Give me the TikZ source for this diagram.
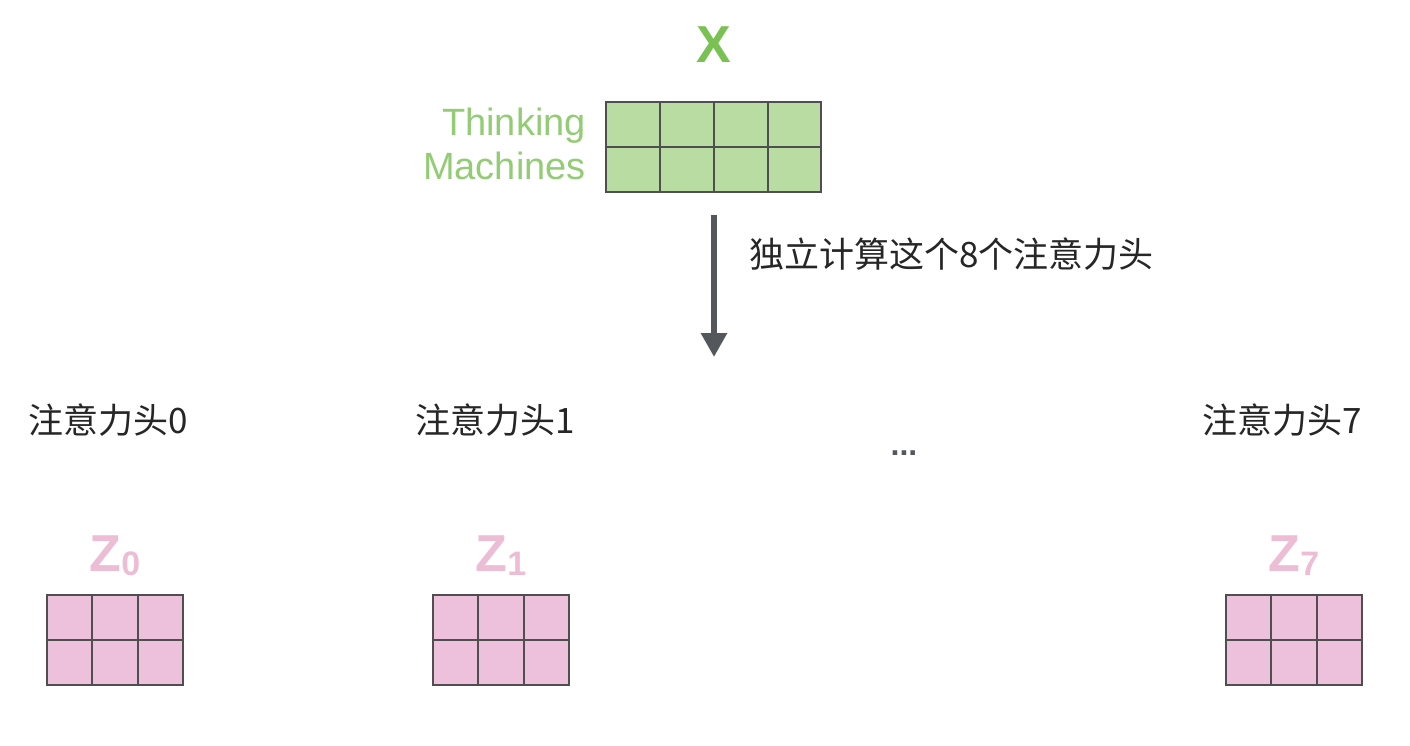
\documentclass[tikz,border=0pt]{standalone}
\usepackage{fontspec}
\setmainfont{Liberation Sans}
\newfontfamily\cjk{Noto Sans CJK SC}
\usetikzlibrary{arrows.meta}
\definecolor{xgreen}{HTML}{78C152}
\definecolor{tgreen}{HTML}{94CC76}
\definecolor{cellgreen}{HTML}{B9DCA3}
\definecolor{zpink}{HTML}{EDBDD6}
\definecolor{cellpink}{HTML}{EDC1DB}
\definecolor{gridline}{HTML}{4F4F4F}
\definecolor{arrowgray}{HTML}{54575C}
\tikzset{
  xmat/.style={draw=gridline, line width=1.8pt, fill=cellgreen, minimum width=215pt, minimum height=90pt, inner sep=0pt},
  zmat/.style={draw=gridline, line width=1.8pt, fill=cellpink, minimum width=136pt, minimum height=90pt, inner sep=0pt},
  gl/.style={draw=gridline, line width=1.8pt},
  headlbl/.style={anchor=west, inner sep=0pt, font=\cjk\fontsize{35}{40}\selectfont, text=black!85},
  zlbl/.style={inner sep=0pt, text=zpink, font=\bfseries\fontsize{52}{52}\selectfont},
  bigarrow/.style={draw=arrowgray, line width=6pt, -{Triangle[width=25pt,length=24pt]}}
}
\begin{document}
\begin{tikzpicture}[x=1pt,y=-1pt]
\useasboundingbox (0,0) rectangle (1410,746);
% X matrix
\node[zlbl, text=xgreen] (xlabel) at (714,45) {X};
\node[xmat] (X) at (713.5,147) {};
\foreach \xx in {660,714,768} \draw[gl] (\xx,102) -- (\xx,192);
\draw[gl] (606,147) -- (821,147);
\node[anchor=east, inner sep=0pt, align=right, text=tgreen, font=\fontsize{38}{44}\selectfont] (words) at (586,144) {Thinking\\Machines};
% arrow
\coordinate (atop) at (714,215);
\coordinate (abot) at (714,357);
\draw[bigarrow] (atop) -- (abot);
\node[headlbl] (note) at (749,254) {独立计算这个8个注意力头};
% heads
\node[headlbl] (h0) at (28,420) {注意力头0};
\node[headlbl] (h1) at (415,420) {注意力头1};
\node[headlbl] (h7) at (1202,420) {注意力头7};
\node[inner sep=0pt, text=arrowgray, font=\bfseries\fontsize{32}{32}\selectfont] (dots) at (904,453) {...};
% Z matrices
\foreach \name/\cx/\sub in {z0/115/0, z1/501/1, z7/1294/7}{
  \node[zlbl] (\name lbl) at (\cx,556) {Z\raisebox{-4pt}{\fontsize{34}{34}\selectfont\sub}};
  \node[zmat] (\name) at (\cx,640) {};
  \pgfmathsetmacro{\xa}{\cx-22.7}
  \pgfmathsetmacro{\xb}{\cx+22.7}
  \pgfmathsetmacro{\xl}{\cx-68}
  \pgfmathsetmacro{\xr}{\cx+68}
  \draw[gl] (\xa,595) -- (\xa,685);
  \draw[gl] (\xb,595) -- (\xb,685);
  \draw[gl] (\xl,640) -- (\xr,640);
}
\end{tikzpicture}
\end{document}
